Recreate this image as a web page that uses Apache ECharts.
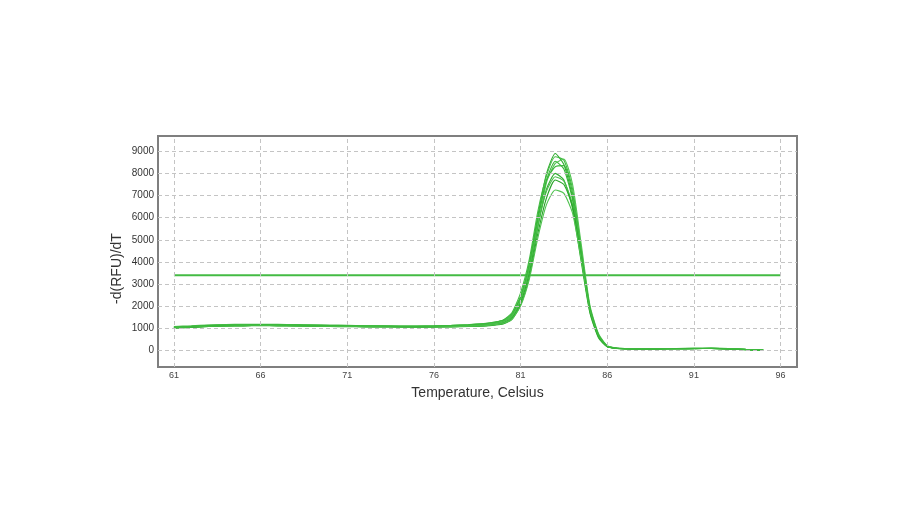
<!DOCTYPE html>
<html>
<head>
<meta charset="utf-8">
<script src="https://cdn.jsdelivr.net/npm/echarts@6/dist/echarts.min.js"></script>
<style>html,body{margin:0;padding:0;background:#fff;}#c{width:900px;height:530px;}</style>
</head>
<body>
<div id="c"></div>
<script>
const temps = [61,62,63,64,65,66,67,68,69,70,71,72,73,74,75,76,77,78,79,79.5,80,80.5,81,81.5,82,82.5,83,83.5,84,84.5,85,85.5,86,86.5,87,88,89,90,91,92,93,94,95];
const xTicks = [61,66,71,76,81,86,91,96];
const yTicks = [0,1000,2000,3000,4000,5000,6000,7000,8000,9000];
const thresholdValue = 3400;
const thresholdRange = [61, 96];

const c1 = [1050,1090,1130,1150,1160,1170,1165,1155,1145,1135,1125,1115,1105,1095,1090,1095,1110,1140,1180,1230,1320,1600,2400,3900,6100,8000,8900,8400,6900,4200,1750,600,180,100,80,75,75,80,85,90,75,40,15];
const c2 = [1080,1110,1150,1170,1180,1185,1175,1165,1150,1140,1130,1120,1110,1100,1100,1110,1130,1170,1220,1280,1380,1700,2600,4100,6300,7900,8750,8600,7300,4600,1950,700,200,110,85,80,80,85,95,100,85,45,20];
const c3 = [1000,1040,1080,1110,1120,1130,1130,1120,1110,1100,1090,1080,1070,1065,1060,1065,1080,1100,1140,1180,1260,1500,2250,3700,5900,7700,8550,8200,6800,4300,1850,650,170,95,75,70,70,75,80,85,70,35,10];
const c4 = [1060,1080,1110,1130,1140,1150,1150,1140,1130,1120,1110,1100,1095,1090,1090,1100,1120,1150,1200,1260,1350,1550,2200,3500,5600,7600,8450,8650,7500,4800,2050,750,210,105,85,80,80,85,90,95,80,45,20];
const c5 = [1020,1050,1090,1110,1120,1125,1120,1110,1100,1090,1080,1075,1070,1065,1060,1065,1075,1090,1120,1160,1230,1450,2150,3500,5600,7300,8000,7700,6400,4000,1700,560,160,90,70,70,70,75,80,85,70,35,10];
const c6 = [1040,1070,1110,1130,1140,1145,1140,1130,1120,1110,1100,1090,1085,1080,1080,1090,1105,1130,1170,1220,1300,1550,2300,3700,5700,7200,7850,7650,6600,4300,1900,650,180,100,80,75,75,80,85,90,75,40,15];
const c7 = [1010,1040,1080,1100,1110,1115,1110,1100,1090,1080,1070,1065,1060,1055,1050,1055,1065,1080,1100,1140,1200,1400,2050,3300,5300,6900,7700,7500,6500,4200,1850,650,170,95,75,70,70,75,80,85,70,35,10];
const c8 = [1030,1060,1090,1110,1120,1125,1120,1110,1100,1090,1080,1075,1070,1065,1060,1065,1075,1095,1120,1160,1220,1400,2000,3200,5100,6600,7250,7100,6200,4100,1850,680,190,105,85,80,80,85,90,95,80,45,20];
const c9 = [1050,1080,1120,1140,1150,1160,1155,1145,1135,1125,1115,1105,1100,1095,1095,1105,1125,1160,1210,1270,1360,1650,2450,3900,6000,7700,8300,8350,7100,4500,1950,700,190,100,80,75,75,80,85,90,75,40,15];

const curves = [c1,c2,c3,c4,c5,c6,c7,c8,c9];
const colors = ['#2eab2e','#44bb44','#38b438','#52c452','#31ae31','#48bf48','#2aa52a','#4fc24f','#3bb73b'];

const chart = echarts.init(document.getElementById('c'), null, {renderer:'canvas'});
const gridStyle = {type:[4,3], color:'#c4c4c4', width:1};
const series = [{
  type:'line', data:[], silent:true, z:1,
  markLine:{silent:true, symbol:['none','none'], label:{show:false}, animation:false,
    lineStyle:gridStyle, emphasis:{disabled:true},
    data: xTicks.map(v=>({xAxis:v})).concat(yTicks.map(v=>({yAxis:v})))}
}, {
  type:'line', data: thresholdRange.map(x=>[x, thresholdValue]), symbol:'none', z:3,
  lineStyle:{color:'#44bb44', width:2}, silent:true, animation:false
}];
curves.forEach((c,i)=>{
  series.push({type:'line', data: temps.map((t,j)=>[t, c[j]]), symbol:'none', smooth:0.2, z:4,
    lineStyle:{color:colors[i], width:1.1}, silent:true, animation:false});
});

chart.setOption({
  animation:false,
  backgroundColor:'#ffffff',
  grid:{left:158, right:103, top:136, bottom:163, show:true, borderColor:'#7f7f7f', borderWidth:2, backgroundColor:'#ffffff'},
  xAxis:{type:'value', min:60.08, max:96.95,
    name:'Temperature, Celsius', nameLocation:'middle', nameGap:19, nameMoveOverlap:false,
    nameTextStyle:{fontFamily:'Liberation Sans', fontSize:14, color:'#333'},
    axisLine:{show:false}, axisTick:{show:false}, splitLine:{show:false},
    axisLabel:{customValues:xTicks, fontFamily:'Liberation Sans', fontSize:9, color:'#444', margin:4}},
  yAxis:{type:'value', min:-750, max:9690,
    name:'-d(RFU)/dT', nameLocation:'middle', nameGap:34, nameMoveOverlap:false,
    nameTextStyle:{fontFamily:'Liberation Sans', fontSize:14, color:'#333', padding:[0,34,0,0]},
    axisLine:{show:false}, axisTick:{show:false}, splitLine:{show:false},
    axisLabel:{customValues:yTicks, formatter:v=>String(v), fontFamily:'Liberation Sans', fontSize:10, color:'#333', margin:4}},
  series: series
});
</script>
</body>
</html>
